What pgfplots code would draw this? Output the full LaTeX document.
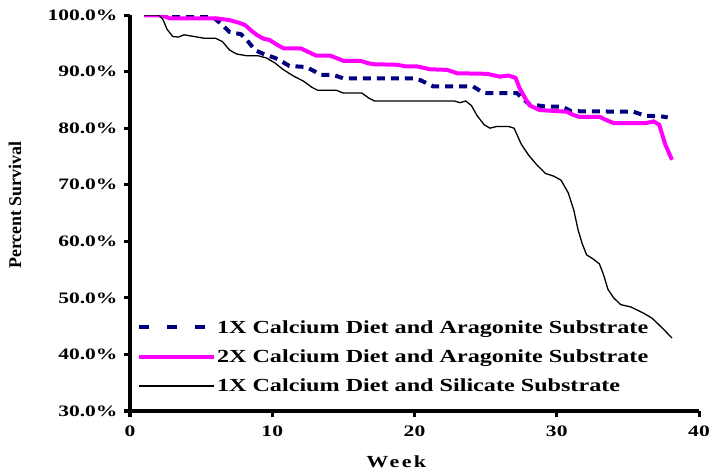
\documentclass[border=0pt]{standalone}
\usepackage{fontspec}
\usepackage{pgfplots}
\pgfplotsset{compat=1.18}
\setmainfont{Liberation Serif}
\newfontfamily\widefont{Liberation Serif}[FakeStretch=1.35]
\newfontfamily\legfont{Liberation Serif}[FakeStretch=1.31]
\newfontfamily\weekfont{Liberation Serif}[FakeStretch=1.3, LetterSpace=14]
\definecolor{navyline}{RGB}{0,0,128}
\definecolor{magline}{RGB}{255,0,255}

\pgfplotstableread{
x y
1 100
5.5 99.9
6.0 99.3
6.5 98.2
7.0 97.0
7.8 96.6
8.3 95.3
8.8 93.8
9.3 93.2
10.2 92.4
10.8 91.6
11.2 91.0
12.4 90.8
13.0 90.0
13.4 89.4
14.3 89.4
15.0 88.8
19.9 88.8
20.4 88.5
21.3 87.4
24.1 87.4
24.8 86.3
25.1 86.2
27.2 86.2
27.7 85.0
28.1 84.2
29.3 83.8
30.4 83.8
31.0 83.0
35.4 82.9
36.2 82.2
37.3 82.1
37.8 81.9
}\aragoniteone

\pgfplotstableread{
x y
1 100
2.3 99.9
2.8 99.4
6.1 99.4
7.0 99.1
7.7 98.6
8.1 98.2
8.5 97.3
8.9 96.5
9.4 95.8
9.8 95.6
10.3 94.8
10.8 94.1
12.0 94.1
12.6 93.4
13.1 92.8
14.1 92.8
14.6 92.3
15.0 91.9
16.2 91.9
16.7 91.5
17.1 91.3
18.8 91.2
19.4 90.9
20.2 90.9
21.1 90.4
22.3 90.3
23.0 89.7
25.1 89.6
26.0 89.1
26.6 89.3
27.1 88.9
27.4 87.0
27.8 85.2
28.1 84.0
28.8 83.2
30.7 82.9
31.2 82.3
31.6 82.0
33.0 82.0
33.6 81.3
34.0 80.9
36.3 80.9
36.8 81.2
37.2 80.6
37.4 79.0
37.6 77.3
38.1 74.4
}\aragonitetwo

\pgfplotstableread{
x y
1 100
2.0 100
2.3 99.3
2.6 97.5
3.0 96.2
3.4 96.1
3.8 96.5
4.5 96.2
5.2 95.9
6.0 95.9
6.5 95.3
7.0 93.8
7.5 93.1
8.2 92.8
9.0 92.8
9.6 92.4
10.2 91.5
10.8 90.3
11.5 89.2
12.2 88.3
12.8 87.2
13.2 86.7
14.5 86.7
15.0 86.2
16.3 86.2
16.8 85.3
17.2 84.8
22.8 84.8
23.2 84.5
23.6 84.8
24.0 84.0
24.4 82.2
24.9 80.6
25.3 80.0
25.8 80.3
26.6 80.3
27.0 80.0
27.5 77.2
28.0 75.3
28.6 73.5
29.2 72.0
29.8 71.5
30.3 70.8
30.8 68.6
31.2 65.5
31.5 62.0
31.8 59.5
32.1 57.6
32.6 56.8
33.0 56.0
33.3 54.0
33.6 51.5
34.0 50.0
34.5 48.8
35.2 48.4
36.1 47.3
36.7 46.4
37.2 45.2
37.6 44.2
38.1 42.9
}\silicate

\begin{document}
\begin{tikzpicture}
\path[use as bounding box] (0,0) rectangle (713bp,475bp);
\begin{axis}[
  at={(130bp,64bp)}, anchor=south west,
  width=569bp, height=396bp,
  scale only axis,
  xmin=0, xmax=40, ymin=30, ymax=100,
  axis x line*=bottom, axis y line*=left,
  axis line style={line width=3bp},
  xtick={0,10,20,30,40},
  ytick={30,40,50,60,70,80,90,100},
  tick align=outside,
  major tick length=6bp,
  every tick/.style={black, line width=3bp},
  /pgf/number format/assume math mode=true,
  yticklabel={\pgfmathprintnumber[fixed,fixed zerofill,precision=1]{\tick}\%},
  ticklabel style={font=\widefont\bfseries\fontsize{16}{18}\selectfont},
  yticklabel style={xshift=-3bp},
  xticklabel style={yshift=-5bp},
  xlabel={Week},
  ylabel={Percent Survival},
  xlabel style={font=\weekfont\bfseries\fontsize{17}{20}\selectfont, at={(axis description cs:0.468,0)}, anchor=center, yshift=-51bp},
  ylabel style={font=\bfseries\fontsize{18}{20}\selectfont, at={(axis description cs:-0.202,0.52)}, anchor=center, rotate=0},
  legend style={draw=none, fill=none, at={(axis description cs:0.012,0.232)}, anchor=north west,
    font=\legfont\bfseries\fontsize{18.5}{20}\selectfont, row sep=13bp, inner sep=0pt, nodes={inner sep=1bp}},
  legend cell align=left,
  legend image code/.code={\draw[#1] (0bp,0bp) -- (75bp,0bp);},
]
\addplot[navyline, line width=4bp, dash pattern=on 8bp off 6bp,
  legend image post style={dash pattern=on 10bp off 18bp}] table[x=x,y=y] {\aragoniteone};
\addlegendentry{1X Calcium Diet and Aragonite Substrate}
\addplot[magline, line width=4bp] table[x=x,y=y] {\aragonitetwo};
\addlegendentry{2X Calcium Diet and Aragonite Substrate}
\addplot[black, line width=1.3bp] table[x=x,y=y] {\silicate};
\addlegendentry{1X Calcium Diet and Silicate Substrate}
\end{axis}
\end{tikzpicture}
\end{document}
